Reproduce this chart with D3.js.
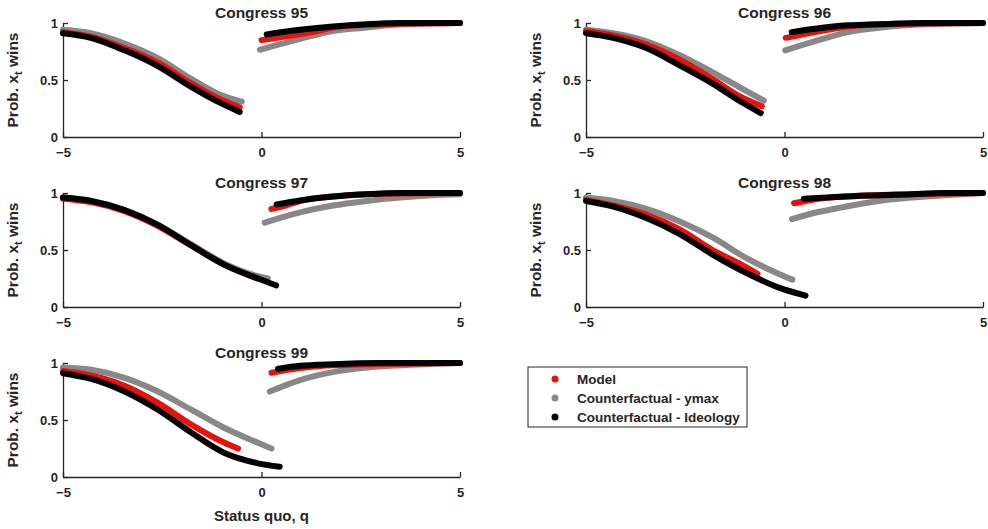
<!DOCTYPE html>
<html>
<head>
<meta charset="utf-8">
<script src="https://cdn.jsdelivr.net/npm/d3@7"></script>
<style>
  html, body { margin: 0; padding: 0; background: #fff; }
  svg text { font-family: "Liberation Sans", Arial, Helvetica, sans-serif; font-weight: bold; fill: #262626; }
</style>
</head>
<body>
<svg id="chart" width="988" height="529"></svg>
<script>
// ---------- DATA (status quo q, probability x_t wins) ----------
const congresses = ["95", "96", "97", "98", "99"];
const seriesNames = ["Model", "Counterfactual - ymax", "Counterfactual - Ideology"];
const xTicks = [-5, 0, 5];
const yTicks = [0, 0.5, 1];
const yTickLabels = ["0", "0.5", "1"];

// Congress 95
const model95L = [[-5,0.92],[-4.3,0.88],[-3.45,0.78],[-2.6,0.65],[-1.77,0.47],[-1.1,0.34],[-0.55,0.26]];
const model95R = [[0.0,0.85],[0.55,0.88],[1.4,0.93],[1.8,0.96],[2.65,0.985],[5,1.0]];
const ymax95L  = [[-5,0.94],[-4.3,0.91],[-3.45,0.82],[-2.6,0.69],[-1.77,0.51],[-1.1,0.38],[-0.5,0.31]];
const ymax95R  = [[-0.04,0.765],[0.97,0.86],[1.8,0.93],[2.65,0.96],[3.5,0.99],[5,1.0]];
const ideo95L  = [[-5,0.91],[-4.3,0.87],[-3.45,0.76],[-2.6,0.62],[-1.77,0.44],[-1.1,0.31],[-0.55,0.22]];
const ideo95R  = [[0.13,0.90],[0.97,0.94],[1.8,0.97],[2.65,0.99],[3.5,1.0],[5,1.0]];

// Congress 96
const model96L = [[-5,0.93],[-4.32,0.89],[-3.48,0.81],[-2.65,0.68],[-1.82,0.51],[-1.15,0.36],[-0.57,0.27]];
const model96R = [[0.03,0.87],[0.77,0.92],[1.6,0.97],[2.43,0.99],[5,1.0]];
const ymax96L  = [[-5,0.94],[-4.32,0.91],[-3.48,0.84],[-2.65,0.72],[-1.82,0.57],[-1.15,0.44],[-0.52,0.32]];
const ymax96R  = [[0.02,0.76],[0.77,0.84],[1.6,0.92],[2.43,0.96],[3.27,0.985],[5,1.0]];
const ideo96L  = [[-5,0.91],[-4.32,0.87],[-3.48,0.78],[-2.65,0.63],[-1.82,0.47],[-1.15,0.32],[-0.6,0.21]];
const ideo96R  = [[0.18,0.92],[0.77,0.95],[1.6,0.98],[2.43,0.99],[3.5,1.0],[5,1.0]];

// Congress 97
const model97L = [[-5,0.95],[-4.29,0.92],[-3.45,0.84],[-2.61,0.71],[-1.77,0.54],[-0.93,0.37],[-0.1,0.25]];
const model97R = [[0.25,0.86],[0.6,0.89],[0.97,0.93],[1.8,0.97],[2.65,0.99],[5,1.0]];
const ymax97L  = [[-5,0.96],[-4.29,0.93],[-3.45,0.85],[-2.61,0.72],[-1.77,0.55],[-0.93,0.38],[-0.09,0.27],[0.16,0.25]];
const ymax97R  = [[0.08,0.74],[0.97,0.83],[1.8,0.89],[2.65,0.93],[3.5,0.96],[4.3,0.98],[5,0.99]];
const ideo97L  = [[-5,0.96],[-4.29,0.93],[-3.45,0.85],[-2.61,0.72],[-1.77,0.54],[-0.93,0.37],[-0.09,0.25],[0.37,0.19]];
const ideo97R  = [[0.38,0.90],[0.97,0.935],[1.8,0.97],[2.65,0.99],[3.5,1.0],[5,1.0]];

// Congress 98
const model98L = [[-5,0.94],[-4.31,0.89],[-3.48,0.81],[-2.64,0.68],[-1.81,0.50],[-0.97,0.35],[-0.68,0.29]];
const model98R = [[0.24,0.91],[0.86,0.95],[1.53,0.97],[3.2,0.99],[5,1.0]];
const ymax98L  = [[-5,0.96],[-4.31,0.93],[-3.48,0.86],[-2.64,0.75],[-1.81,0.61],[-0.97,0.43],[-0.14,0.29],[0.2,0.24]];
const ymax98R  = [[0.19,0.77],[0.69,0.82],[1.53,0.88],[2.37,0.93],[3.2,0.96],[4.04,0.98],[5,1.0]];
const ideo98L  = [[-5,0.93],[-4.31,0.88],[-3.48,0.78],[-2.64,0.64],[-1.81,0.46],[-0.97,0.30],[-0.14,0.17],[0.53,0.10]];
const ideo98R  = [[0.49,0.95],[1.53,0.97],[3.2,0.99],[4.0,1.0],[5,1.0]];

// Congress 99
const model99L = [[-5,0.93],[-4.29,0.89],[-3.45,0.80],[-2.61,0.65],[-1.77,0.46],[-0.93,0.30],[-0.59,0.25]];
const model99R = [[0.25,0.915],[0.97,0.955],[1.8,0.98],[5,1.0]];
const ymax99L  = [[-5,0.96],[-4.29,0.94],[-3.45,0.87],[-2.61,0.75],[-1.77,0.59],[-0.93,0.43],[-0.09,0.30],[0.25,0.25]];
const ymax99R  = [[0.21,0.75],[0.97,0.85],[1.8,0.92],[2.65,0.96],[3.5,0.98],[5,1.0]];
const ideo99L  = [[-5,0.91],[-4.29,0.86],[-3.45,0.75],[-2.61,0.59],[-1.77,0.39],[-0.93,0.21],[-0.09,0.12],[0.46,0.09]];
const ideo99R  = [[0.42,0.95],[0.97,0.975],[1.8,0.99],[3,1.0],[5,1.0]];

const panelData = {
  "95": {model: [model95L, model95R], ymax: [ymax95L, ymax95R], ideo: [ideo95L, ideo95R]},
  "96": {model: [model96L, model96R], ymax: [ymax96L, ymax96R], ideo: [ideo96L, ideo96R]},
  "97": {model: [model97L, model97R], ymax: [ymax97L, ymax97R], ideo: [ideo97L, ideo97R]},
  "98": {model: [model98L, model98R], ymax: [ymax98L, ymax98R], ideo: [ideo98L, ideo98R]},
  "99": {model: [model99L, model99R], ymax: [ymax99L, ymax99R], ideo: [ideo99L, ideo99R]}
};

// ---------- LAYOUT ----------
const colors = {model: "#e8120c", ymax: "#888888", ideo: "#000000"};
const drawOrder = ["ymax", "model", "ideo"];
const axisColor = "#262626";
const panelW = 397, panelH = 114;
const panels = [
  {id: "95", x: 63,  y: 23},
  {id: "96", x: 586, y: 23},
  {id: "97", x: 63,  y: 193},
  {id: "98", x: 586, y: 193},
  {id: "99", x: 63,  y: 363}
];

const svg = d3.select("#chart");

panels.forEach(p => {
  const g = svg.append("g").attr("transform", `translate(${p.x},${p.y})`);
  const x = d3.scaleLinear().domain([-5, 5]).range([0, panelW]);
  const y = d3.scaleLinear().domain([0, 1]).range([panelH, 0]);

  // axes (MATLAB style, inward ticks)
  const xAxis = d3.axisBottom(x).tickValues(xTicks).tickSizeInner(-5).tickSizeOuter(0).tickPadding(10)
    .tickFormat(d3.format("d"));
  const yAxis = d3.axisLeft(y).tickValues(yTicks).tickSizeInner(-5).tickSizeOuter(0).tickPadding(10)
    .tickFormat((d, i) => yTickLabels[i]);

  const gx = g.append("g").attr("transform", `translate(0,${panelH})`).call(xAxis);
  const gy = g.append("g").call(yAxis);
  [gx, gy].forEach(a => {
    a.select(".domain").attr("stroke", axisColor).attr("stroke-width", 1.3);
    a.selectAll(".tick line").attr("stroke", axisColor).attr("stroke-width", 1.3);
    a.selectAll(".tick text").attr("font-size", 13).attr("font-weight", "bold")
      .attr("fill", axisColor).attr("font-family", "Liberation Sans, Arial, sans-serif");
  });
  gy.selectAll(".tick text").attr("x", -5);
  gx.selectAll(".tick text").attr("y", 11);

  // curves
  const line = d3.line().x(d => x(d[0])).y(d => y(d[1])).curve(d3.curveMonotoneX);
  drawOrder.forEach(key => {
    panelData[p.id][key].forEach(seg => {
      g.append("path").datum(seg)
        .attr("d", line)
        .attr("fill", "none")
        .attr("stroke", colors[key])
        .attr("stroke-width", 6)
        .attr("stroke-linecap", "round")
        .attr("stroke-linejoin", "round");
    });
  });

  // title
  g.append("text").attr("x", panelW / 2).attr("y", -5)
    .attr("text-anchor", "middle").attr("font-size", 15.5)
    .text("Congress " + p.id);

  // y label
  const yl = g.append("text")
    .attr("transform", `translate(${-45},${panelH / 2}) rotate(-90)`)
    .attr("text-anchor", "middle").attr("font-size", 15.5);
  yl.append("tspan").text("Prob. x");
  yl.append("tspan").attr("font-size", 11).attr("dy", 4).text("t");
  yl.append("tspan").attr("dy", -4).text(" wins");

  if (p.id === "99") {
    g.append("text").attr("x", panelW / 2).attr("y", panelH + 44)
      .attr("text-anchor", "middle").attr("font-size", 15)
      .text("Status quo, q");
  }
});

// ---------- LEGEND ----------
const leg = svg.append("g").attr("transform", "translate(528,367)");
leg.append("rect").attr("width", 219).attr("height", 60)
  .attr("fill", "#fff").attr("stroke", axisColor).attr("stroke-width", 1);
const legKeys = ["model", "ymax", "ideo"];
legKeys.forEach((k, i) => {
  const row = leg.append("g").attr("transform", `translate(0,${12 + i * 19})`);
  row.append("circle").attr("cx", 27).attr("cy", 0).attr("r", 3.5).attr("fill", colors[k]);
  row.append("text").attr("x", 49).attr("y", 5).attr("font-size", 13.5).text(seriesNames[i]);
});
</script>
</body>
</html>
